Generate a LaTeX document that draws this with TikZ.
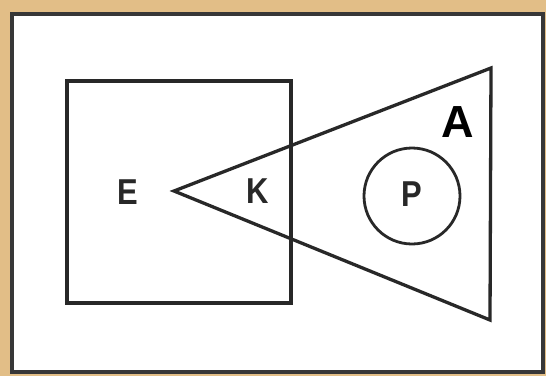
\documentclass[tikz,border=0pt]{standalone}
\usepackage{fontspec}
\setmainfont{Liberation Sans}
\usepackage{tikz}
\usetikzlibrary{positioning}
\definecolor{paper}{RGB}{226,190,135}
\definecolor{frame}{RGB}{55,55,55}
\definecolor{pen}{RGB}{40,40,40}
\newcommand{\narrow}[1]{\scalebox{0.86}[1]{#1}}
\tikzset{
  letter/.style={font=\fontsize{36}{38}\selectfont\bfseries,text=pen,inner sep=0pt},
  bigletter/.style={font=\fontsize{45}{47}\selectfont\bfseries,text=black,inner sep=0pt},
  outline/.style={draw=pen,line width=3.3pt,line join=miter},
}
\begin{document}
\begin{tikzpicture}[x=1pt,y=-1pt]
  \fill[paper] (0,0) rectangle (546,376);
  \useasboundingbox (0,0) rectangle (546,376);
  \draw[frame,fill=white,line width=3.8pt] (12,14) rectangle (543,372);
  % set E
  \draw[outline] (67,81) rectangle (291,303);
  % set A
  \draw[outline] (174,191) -- (491,68) -- (490,320) -- cycle;
  % set P
  \draw[outline,line width=2.8pt] (412,196) circle (48);
  \node[letter] (e) at (128,192) {\narrow{E}};
  \node[letter] (k) at (258,191) {\narrow{K}};
  \node[letter] (p) at (412,194) {\narrow{P}};
  \node[bigletter] (a) at (458,122) {A};
\end{tikzpicture}
\end{document}
